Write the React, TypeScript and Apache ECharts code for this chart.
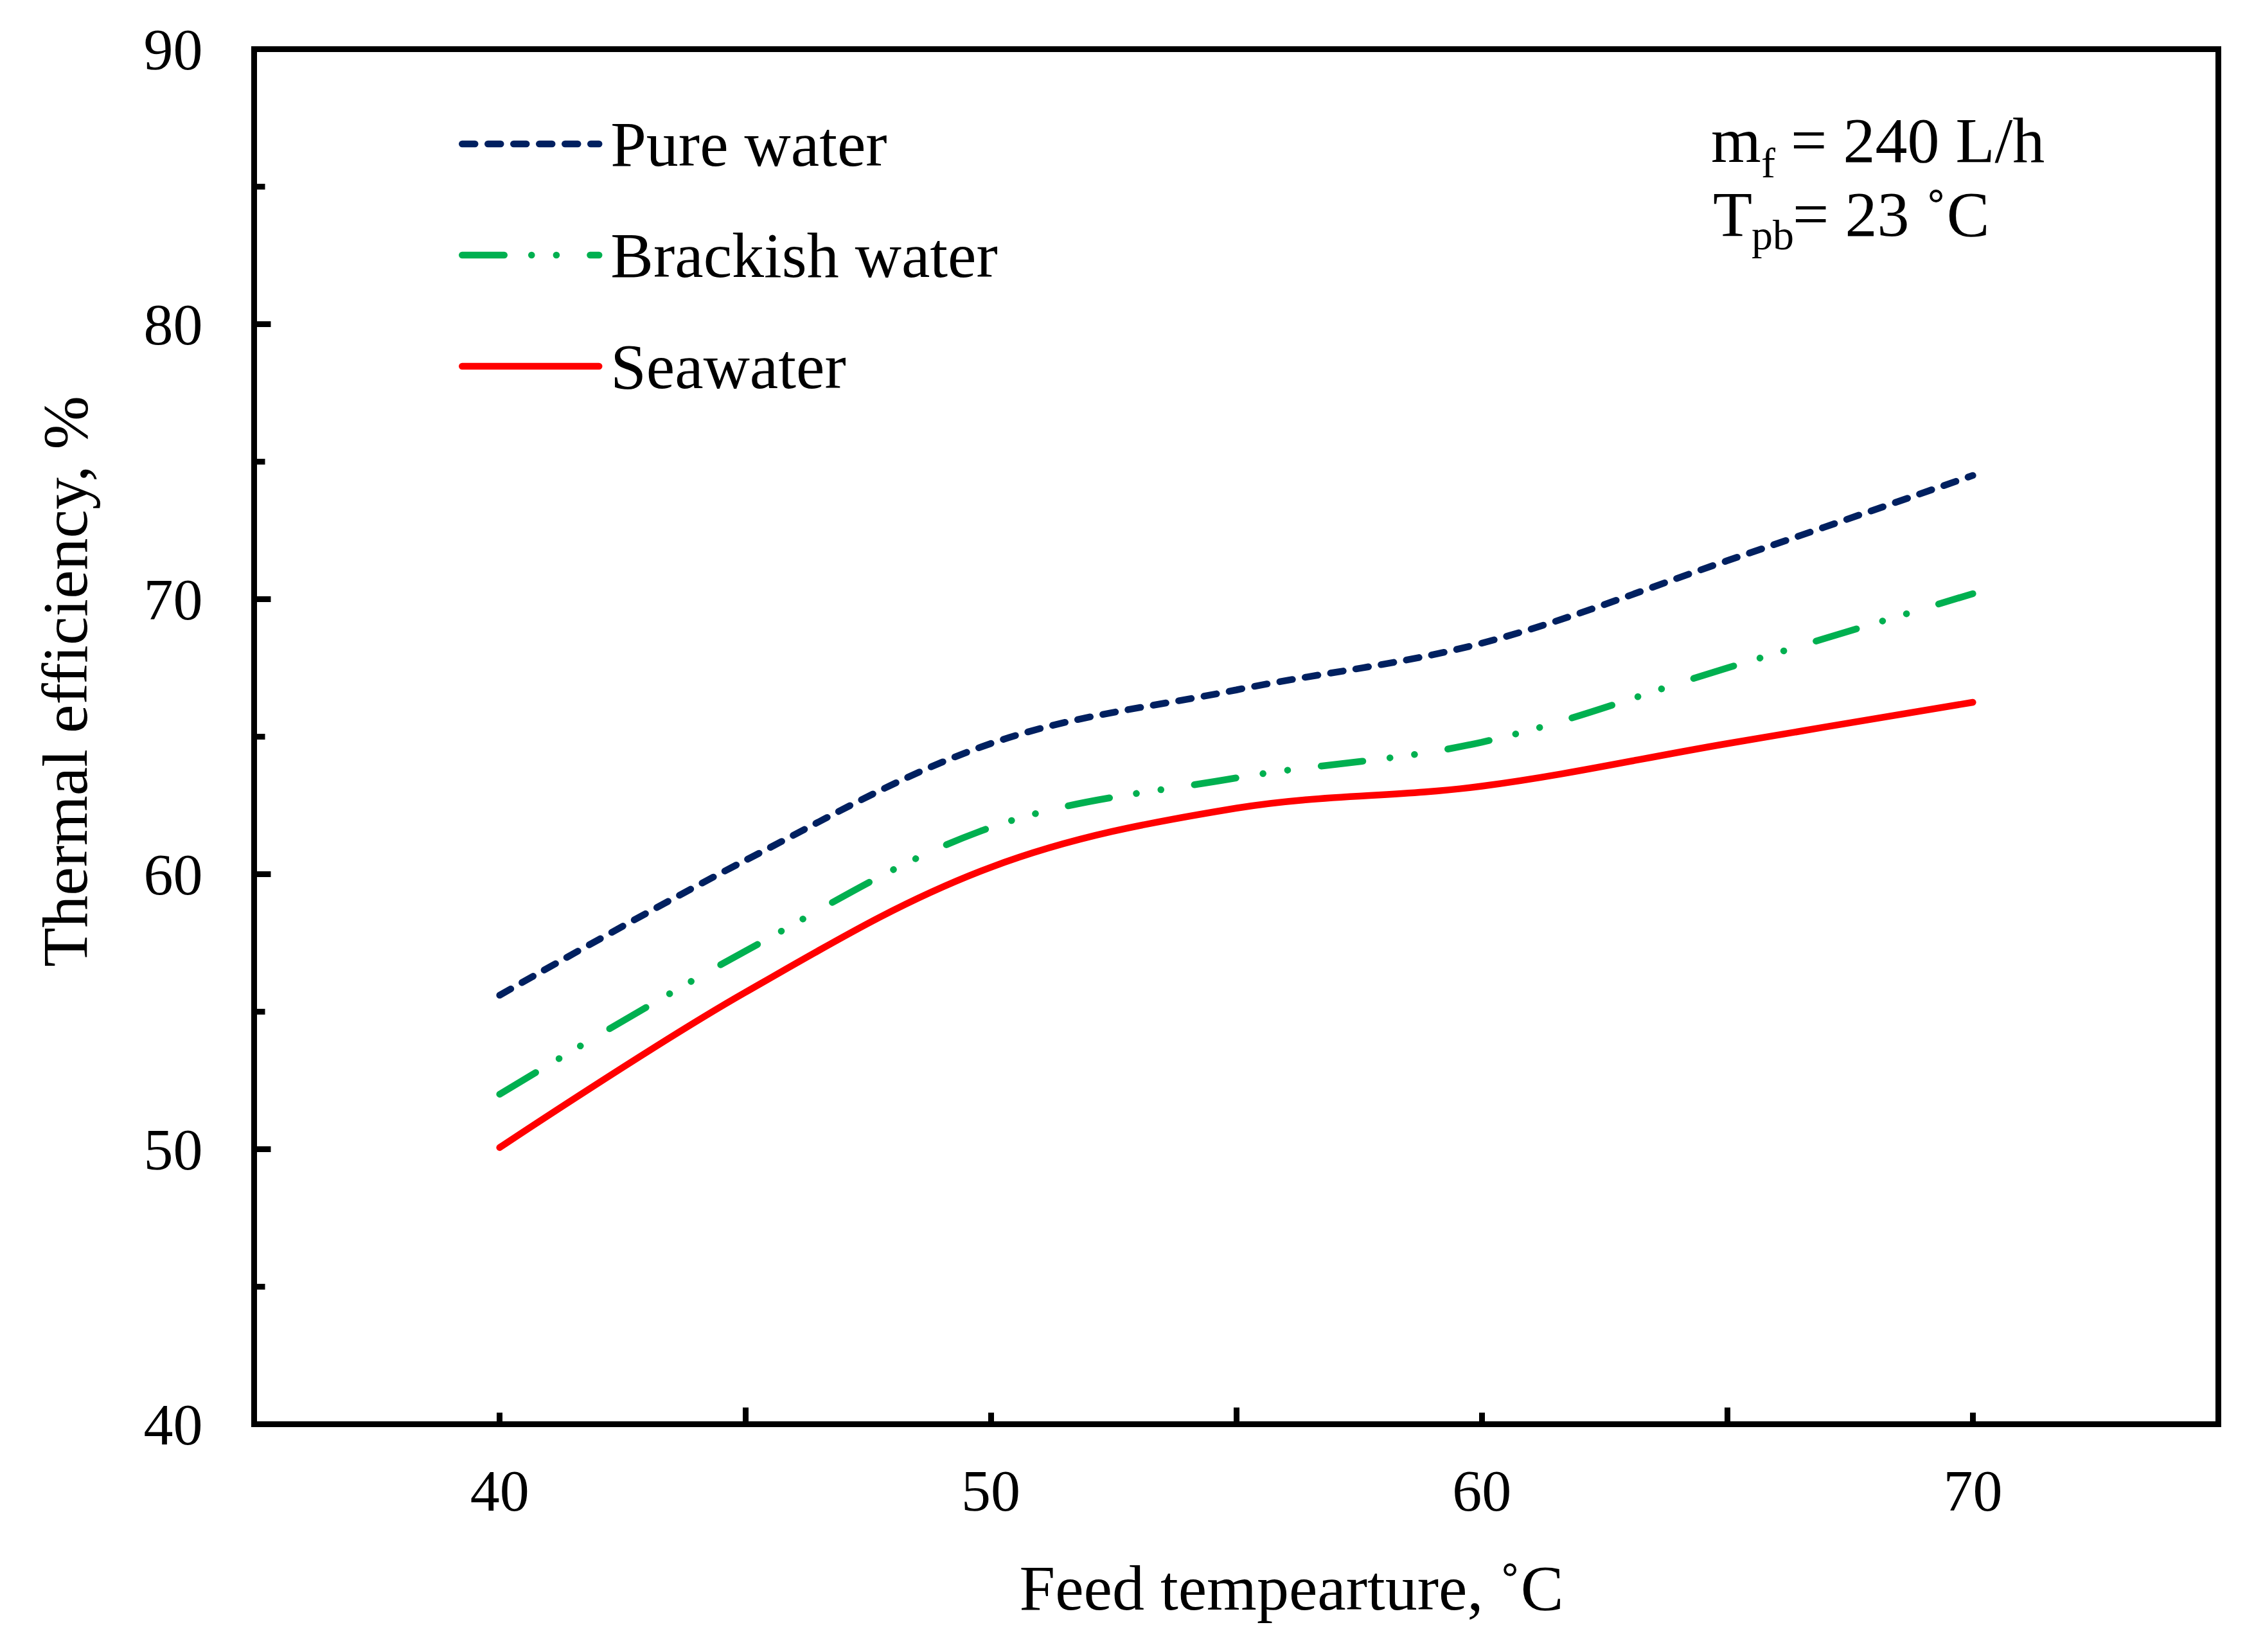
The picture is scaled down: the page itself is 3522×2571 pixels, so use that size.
import React, { useEffect, useRef } from 'react';
import * as echarts from 'echarts';

// ---- data ----
const feedTemperature = [40, 45, 50, 55, 60, 65, 70];
const pureWater = [55.6, 60.5, 64.75, 66.7, 68.4, 71.4, 74.5];
const brackishWater = [52.0, 57.2, 61.7, 63.5, 64.8, 67.5, 70.2];
const seawater = [50.06, 55.7, 60.25, 62.4, 63.2, 64.75, 66.25];
const seriesNames = ['Pure water', 'Brackish water', 'Seawater'];
const xTickLabels = ['40', '50', '60', '70'];
const yTickLabels = ['40', '50', '60', '70', '80', '90'];

const FONT = "'Liberation Serif', 'Times New Roman', serif";
const LW = 10.5;

const pairs = (ys: number[]) => feedTemperature.map((x, i) => [x, ys[i]]);

export default function App() {
  const ref = useRef<HTMLDivElement>(null);

  useEffect(() => {
    if (!ref.current) return;
    const chart = echarts.init(ref.current, undefined, { renderer: 'svg' });

    const option: any = {
      animation: false,
      backgroundColor: '#ffffff',
      grid: {
        left: 395.5,
        top: 76.5,
        right: 69.5,
        bottom: 354.5,
        show: true,
        borderColor: '#000',
        borderWidth: 9,
        backgroundColor: 'transparent',
      },
      legend: {
        orient: 'vertical',
        left: 714,
        top: 174,
        padding: 0,
        itemWidth: 213,
        itemHeight: 100,
        itemGap: 73,
        data: seriesNames,
        itemStyle: { opacity: 0 },
        lineStyle: { width: LW },
        textStyle: {
          fontFamily: FONT,
          fontSize: 100,
          lineHeight: 100,
          color: '#000',
          padding: [0, 0, 0, 13],
        },
      },
      xAxis: [
        {
          type: 'value',
          position: 'bottom',
          min: 35,
          max: 75,
          interval: 5,
          name: 'Feed tempearture, ˚C',
          nameLocation: 'middle',
          nameGap: 205,
          nameTextStyle: {
            fontFamily: FONT,
            fontSize: 100,
            color: '#000',
            padding: [0, 0, 0, 172],
          },
          axisLine: { show: true, lineStyle: { color: '#000', width: 9 } },
          axisTick: { show: true, inside: true, length: 18, lineStyle: { color: '#000', width: 9 } },
          axisLabel: {
            fontFamily: FONT,
            fontSize: 92,
            color: '#000',
            margin: 57,
            formatter: (v: number) => (xTickLabels.indexOf(String(v)) >= 0 ? String(v) : ''),
          },
          splitLine: { show: false },
        },
        {
          type: 'value',
          position: 'bottom',
          min: 35,
          max: 75,
          interval: 10,
          axisLine: { show: false },
          axisTick: { show: true, inside: true, length: 26, lineStyle: { color: '#000', width: 9 } },
          axisLabel: { show: false },
          splitLine: { show: false },
        },
      ],
      yAxis: {
        type: 'value',
        min: 40,
        max: 90,
        interval: 10,
        name: 'Thermal efficiency, %',
        nameLocation: 'middle',
        nameGap: 244,
        nameTextStyle: {
          fontFamily: FONT,
          fontSize: 100,
          color: '#000',
          padding: [0, 0, 0, 172],
        },
        axisLine: { show: true, lineStyle: { color: '#000', width: 9 } },
        axisTick: { show: true, inside: true, length: 26, lineStyle: { color: '#000', width: 9 } },
        minorTick: { show: true, splitNumber: 2, length: 17, lineStyle: { color: '#000', width: 9 } },
        axisLabel: {
          fontFamily: FONT,
          fontSize: 92,
          color: '#000',
          margin: 80,
          formatter: (v: number) => (yTickLabels.indexOf(String(v)) >= 0 ? String(v) : ''),
        },
        splitLine: { show: false },
        minorSplitLine: { show: false },
      },
      series: [
        {
          name: seriesNames[0],
          type: 'line',
          xAxisIndex: 0,
          data: pairs(pureWater),
          smooth: 0.35,
          symbol: 'none',
          itemStyle: { color: '#002060' },
          lineStyle: { color: '#002060', width: LW, type: [20, 20], cap: 'round' },
        },
        {
          name: seriesNames[1],
          type: 'line',
          xAxisIndex: 0,
          data: pairs(brackishWater),
          smooth: 0.35,
          symbol: 'none',
          itemStyle: { color: '#00B050' },
          lineStyle: { color: '#00B050', width: LW, type: [65.5, 42.5, 0.1, 38.5, 0.1, 52.5], cap: 'round' },
        },
        {
          name: seriesNames[2],
          type: 'line',
          xAxisIndex: 0,
          data: pairs(seawater),
          smooth: 0.35,
          symbol: 'none',
          itemStyle: { color: '#FF0000' },
          lineStyle: { color: '#FF0000', width: LW, type: 'solid', cap: 'round' },
        },
      ],
      graphic: [
        { type: 'text', left: 2663, top: 168, style: { text: 'm', font: `100px ${FONT}`, fill: '#000' } },
        { type: 'text', left: 2741, top: 220, style: { text: 'f', font: `66px ${FONT}`, fill: '#000' } },
        { type: 'text', left: 2787, top: 168, style: { text: '= 240 L/h', font: `100px ${FONT}`, fill: '#000' } },
        { type: 'text', left: 2666, top: 283, style: { text: 'T', font: `100px ${FONT}`, fill: '#000' } },
        { type: 'text', left: 2726, top: 332, style: { text: 'pb', font: `66px ${FONT}`, fill: '#000' } },
        { type: 'text', left: 2790, top: 283, style: { text: '= 23 ˚C', font: `100px ${FONT}`, fill: '#000' } },
      ],
    };

    chart.setOption(option);
    return () => chart.dispose();
  }, []);

  return (
    <div
      ref={ref}
      style={{ position: 'fixed', left: 0, top: 0, width: '3522px', height: '2571px', background: '#fff' }}
    />
  );
}
